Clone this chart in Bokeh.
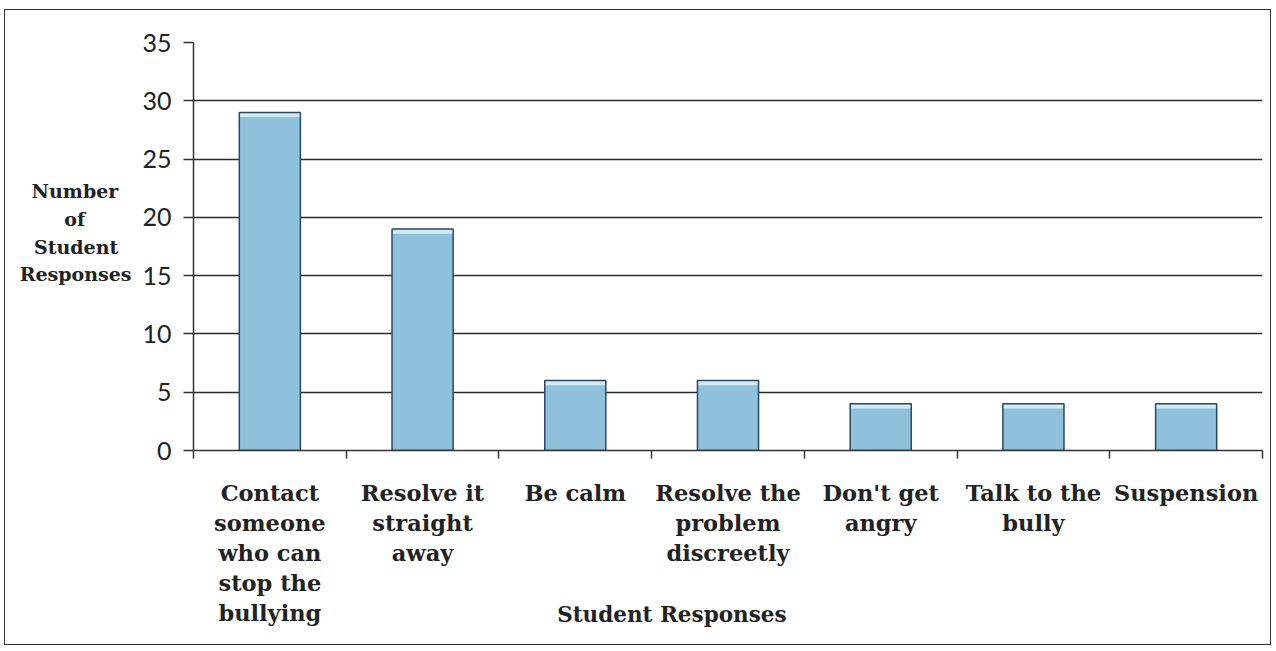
from bokeh.plotting import figure
from bokeh.models import ColumnDataSource, FixedTicker, Range1d
from bokeh.embed import file_html
from bokeh.resources import INLINE

categories = ["Contact\nsomeone\nwho can\nstop the\nbullying",
              "Resolve it\nstraight\naway",
              "Be calm",
              "Resolve the\nproblem\ndiscreetly",
              "Don't get\nangry",
              "Talk to the\nbully",
              "Suspension"]
values = [29, 19, 6, 6, 4, 4, 4]
y_ticks = [0, 5, 10, 15, 20, 25, 30, 35]
x_title = "Student Responses"
y_title_lines = ["Number", "of", "Student", "Responses"]

n = len(categories)
centers = [i + 0.5 for i in range(n)]
src = ColumnDataSource(dict(x=centers, top=values,
                            cap_bottom=[v - 0.4 for v in values]))

W, H = 1267, 636
p = figure(width=W, height=H, output_backend="svg", toolbar_location=None,
           x_range=Range1d(0, n), y_range=Range1d(0, 35),
           min_border_left=188, min_border_right=10,
           min_border_top=32, min_border_bottom=196)
p.outline_line_color = None
p.styles = {"border": "1.5px solid #333333", "margin-left": "4px",
            "margin-top": "9px"}

# grid
p.xgrid.grid_line_color = None
p.ygrid.ticker = FixedTicker(ticks=y_ticks)
p.ygrid.grid_line_color = "#2b2b2b"
p.ygrid.grid_line_width = 1.5

# bars: body, lighter top bevel, outline
p.vbar(x="x", top="top", bottom=0, width=0.4, source=src,
       fill_color="#8fc1dd", line_color=None)
p.vbar(x="x", top="top", bottom="cap_bottom", width=0.4, source=src,
       fill_color="#d3eaf4", line_color=None)
p.vbar(x="x", top="top", bottom=0, width=0.4, source=src,
       fill_color=None, line_color="#2a4766", line_width=1.5)

# y axis
ya = p.yaxis[0]
ya.ticker = FixedTicker(ticks=y_ticks)
ya.major_tick_out = 10
ya.major_tick_in = 0
ya.minor_tick_line_color = None
ya.axis_line_color = "#333333"
ya.axis_line_width = 1.5
ya.major_tick_line_color = "#333333"
ya.major_tick_line_width = 1.5
ya.major_label_text_font = "Lato"
ya.major_label_text_font_size = "25px"
ya.major_label_text_color = "#222222"
ya.major_label_standoff = 12

# y title: horizontal multi-line axis label; the right-aligned lines are
# padded with no-break spaces so that they appear centred
pad = {"Number": 2, "of": 7, "Student": 2, "Responses": 0}
ya.axis_label = "\n".join(l + "\u00a0" * pad.get(l, 0)
                          for l in y_title_lines) + "\n\u00a0"
ya.axis_label_orientation = "horizontal"
ya.axis_label_text_font = "DejaVu Serif"
ya.axis_label_text_font_style = "bold"
ya.axis_label_text_font_size = "19px"
ya.axis_label_text_color = "#222222"
ya.axis_label_text_line_height = 1.27
ya.axis_label_standoff = 8

# x axis: labels at centres, ticks at boundaries (minor ticks)
xa = p.xaxis[0]
xa.ticker = FixedTicker(ticks=centers, minor_ticks=list(range(n + 1)))
xa.major_label_overrides = {c: lab for c, lab in zip(centers, categories)}
xa.major_tick_line_color = None
xa.minor_tick_out = 8
xa.minor_tick_in = 0
xa.minor_tick_line_color = "#333333"
xa.minor_tick_line_width = 1.5
xa.axis_line_color = "#333333"
xa.axis_line_width = 1.5
xa.major_label_text_font = "DejaVu Serif"
xa.major_label_text_font_style = "bold"
xa.major_label_text_font_size = "22.5px"
xa.major_label_text_color = "#222222"
xa.major_label_text_line_height = 1.16
xa.major_label_standoff = 21

# x title (padded on the right so that it sits left of the frame centre)
xa.axis_label = x_title + "\u00a0" * 15
xa.axis_label_text_font = "DejaVu Serif"
xa.axis_label_text_font_style = "bold"
xa.axis_label_text_font_size = "21.5px"
xa.axis_label_text_color = "#222222"
xa.axis_label_standoff = -27

open("out.html", "w").write(file_html(p, INLINE))
